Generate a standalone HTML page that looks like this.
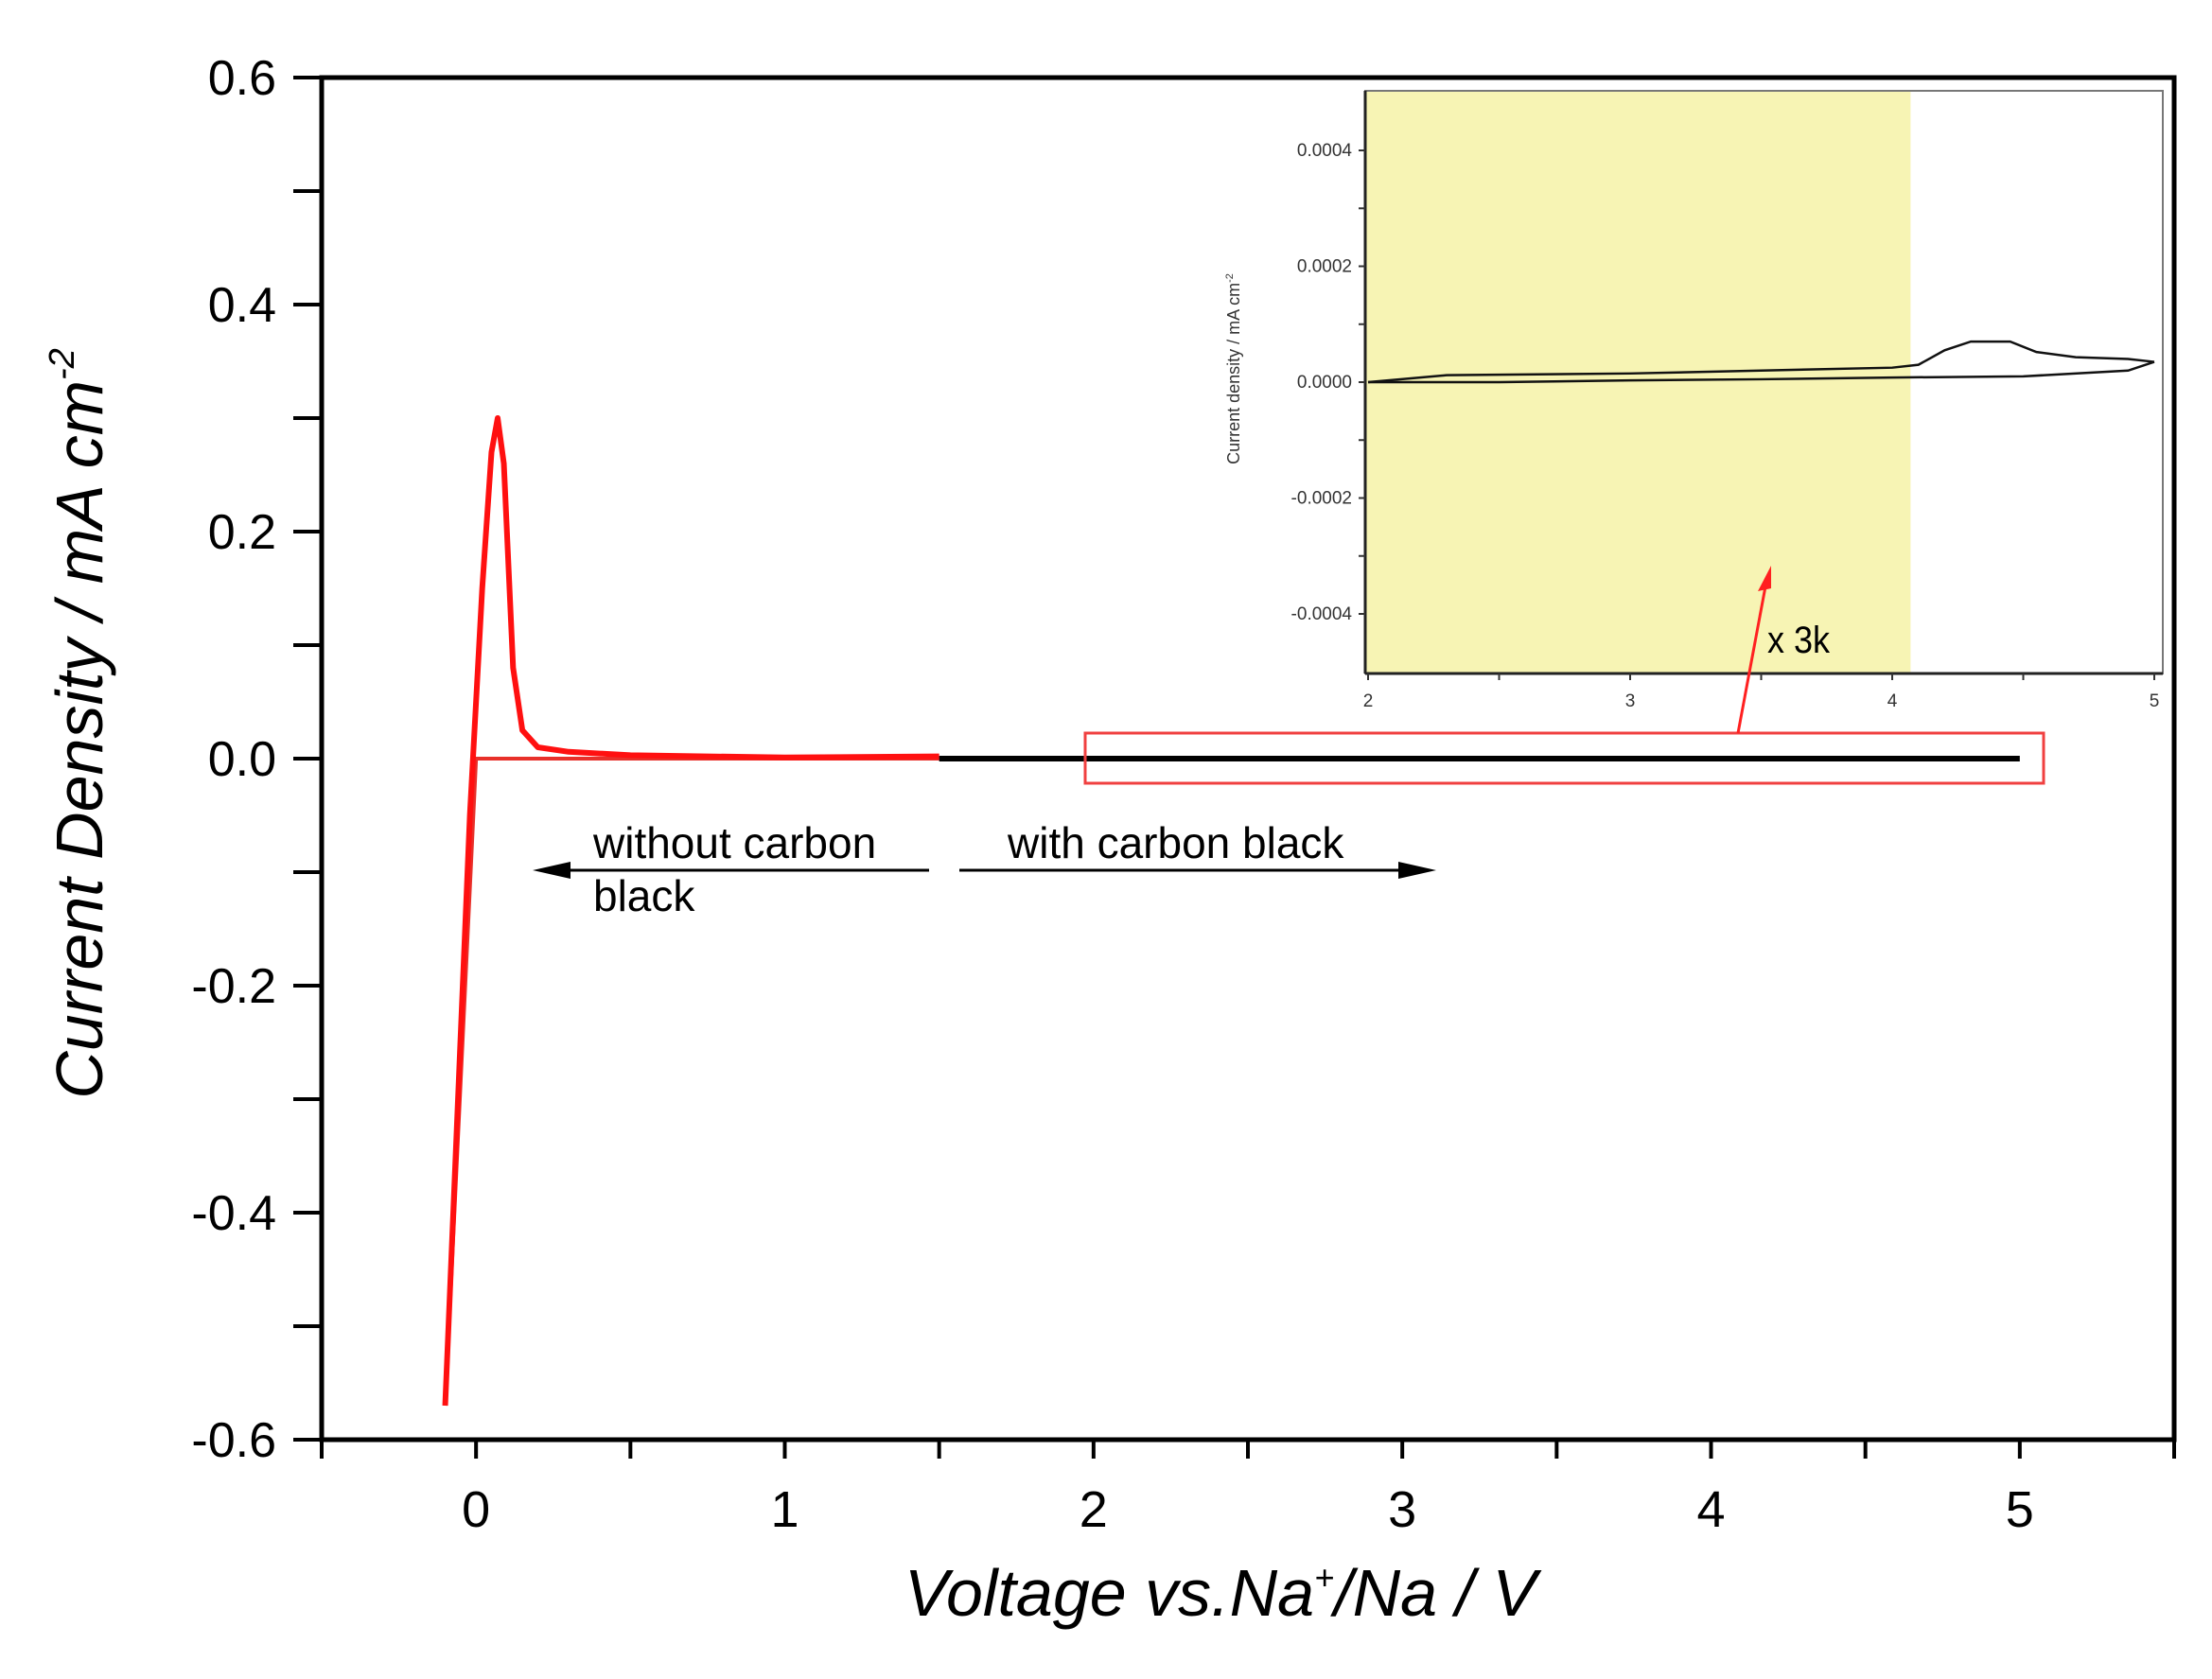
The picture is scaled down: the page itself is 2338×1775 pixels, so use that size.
<!DOCTYPE html>
<html><head><meta charset="utf-8"><style>
html,body{margin:0;padding:0;background:#fff}
svg{display:block}
text{font-family:"Liberation Sans","DejaVu Sans",sans-serif}
</style></head><body>
<svg id="chart" width="2338" height="1775" viewBox="0 0 2338 1775" xmlns="http://www.w3.org/2000/svg">
<g id="main"></g>
<g id="inset"></g>
<g id="overlay"></g>
</svg>
<script>
const xTicks=[0,1,2,3,4,5];
const yTicks=[0.6,0.4,0.2,0.0,-0.2,-0.4,-0.6];
const yTickLabels=["0.6","0.4","0.2","0.0","-0.2","-0.4","-0.6"];
const redCathodicX=[1.5,0.8,0.3,0.1,0.02,0.0,-0.1];
const redCathodicY=[0.0,0.0,0.0,0.0,0.0,0.0,-0.57];
const redAnodicX=[-0.1,-0.02,0.02,0.05,0.07,0.09,0.12,0.15,0.2,0.3,0.5,1.0,1.5];
const redAnodicY=[-0.57,-0.05,0.15,0.27,0.30,0.26,0.08,0.025,0.01,0.006,0.003,0.001,0.002];
const blackX=[1.5,5.0];
const blackY=[0.0,0.0];
const insetXTicks=[2,3,4,5];
const insetYTicks=[0.0004,0.0002,0,-0.0002,-0.0004];
const insetYTickLabels=["0.0004","0.0002","0.0000","-0.0002","-0.0004"];
const insetUpperX=[2.0,2.3,3.0,3.5,4.0,4.1,4.2,4.3,4.45,4.55,4.7,4.9,5.0];
const insetUpperY=[0.0,0.000012,0.000015,0.00002,0.000025,0.00003,0.000055,0.00007,0.00007,0.000052,0.000043,0.00004,0.000035];
const insetLowerX=[2.0,2.5,3.0,3.5,4.0,4.5,4.9,5.0];
const insetLowerY=[0.0,0.0,0.000003,0.000005,0.000008,0.00001,0.00002,0.000035];

const NS="http://www.w3.org/2000/svg";
function mk(parent,tag,attrs,txt){const e=document.createElementNS(NS,tag);for(const k in attrs)e.setAttribute(k,attrs[k]);if(txt!==undefined)e.textContent=txt;parent.appendChild(e);return e;}
const L=340,R=2298,T=82,B=1522;
const sx=v=>L+(v+0.5)/6*(R-L);
const sy=v=>T+(0.6-v)/1.2*(B-T);
const main=document.getElementById('main');

let fr=mk(main,'rect',{x:L,y:T,width:R-L,height:B-T,fill:'none',stroke:'#000','stroke-width':5});


for(let i=0;i<=12;i++){const v=0.6-i*0.1;const y=sy(v);
 let t=mk(main,'line',{x1:L-30,x2:L,y1:y,y2:y,stroke:'#000','stroke-width':4});
 
 }
yTicks.forEach((v,i)=>{let t=mk(main,'text',{x:L-48,y:sy(v)+18,'text-anchor':'end','font-size':52},yTickLabels[i]);
 
 });
for(let i=0;i<=12;i++){const v=-0.5+i*0.5;const x=sx(v);
 let t=mk(main,'line',{x1:x,x2:x,y1:B,y2:B+20,stroke:'#000','stroke-width':4});
 
 }
xTicks.forEach(v=>{let t=mk(main,'text',{x:sx(v),y:1614,'text-anchor':'middle','font-size':54},String(v));
 
 });
let xt=mk(main,'text',{x:1290,y:1708,'text-anchor':'middle','font-size':70,'font-style':'italic'});


xt.innerHTML='Voltage vs.Na<tspan font-size="36" dy="-28">+</tspan><tspan dy="28">/Na / V</tspan>';
let yt=mk(main,'text',{x:0,y:0,'text-anchor':'middle','font-size':70,'font-style':'italic',transform:'translate(108,765) rotate(-90)'});


yt.innerHTML='Current Density / mA cm<tspan font-size="38" dy="-30">-2</tspan>';

function pts(xs,ys,fx,fy){return xs.map((x,i)=>fx(x)+','+fy(ys[i])).join(' ');}
let s1=mk(main,'polyline',{points:pts(redCathodicX,redCathodicY,sx,sy),fill:'none',stroke:'#e8302a','stroke-width':4,'stroke-linejoin':'round'});


let s2=mk(main,'polyline',{points:pts(redAnodicX,redAnodicY,sx,sy),fill:'none',stroke:'#ff1010','stroke-width':6,'stroke-linejoin':'round'});


let s3=mk(main,'polyline',{points:pts(blackX,blackY,sx,sy),fill:'none',stroke:'#000','stroke-width':6});



let zb=mk(main,'rect',{x:1147,y:775,width:1013,height:53,fill:'none',stroke:'#f04040','stroke-width':3});


let a1=mk(main,'line',{x1:982,y1:920,x2:595,y2:920,stroke:'#000','stroke-width':3});


let a1h=mk(main,'polygon',{points:'563,920 603,911 603,929',fill:'#000'});


let a2=mk(main,'line',{x1:1014,y1:920,x2:1490,y2:920,stroke:'#000','stroke-width':3});


let a2h=mk(main,'polygon',{points:'1518,920 1478,911 1478,929',fill:'#000'});


let t1=mk(main,'text',{x:627,y:907,'font-size':46},'without carbon');


let t2=mk(main,'text',{x:627,y:963,'font-size':46},'black');


let t3=mk(main,'text',{x:1065,y:907,'font-size':46},'with carbon black');



const inset=document.getElementById('inset');
const IL=1443,IR=2286,IT=96,IB=712;
const ix=v=>IL+3+(v-2)/3*(2277-IL-3);
const iy=v=>404-(v/0.0004)*245;
let bg=mk(inset,'rect',{x:IL,y:IT,width:ix(4.07)-IL,height:IB-IT,fill:'#f7f4b4'});


let ifr=mk(inset,'rect',{x:IL,y:IT,width:IR-IL,height:IB-IT,fill:'none',stroke:'#777','stroke-width':2});


let il=mk(inset,'line',{x1:IL,x2:IL,y1:IT,y2:IB,stroke:'#222','stroke-width':3});


let ib=mk(inset,'line',{x1:IL,x2:IR,y1:IB,y2:IB,stroke:'#222','stroke-width':3});


for(let i=0;i<9;i++){const v=0.0004-i*0.0001;const y=iy(v);
 let t=mk(inset,'line',{x1:IL-7,x2:IL,y1:y,y2:y,stroke:'#333','stroke-width':2});
 
 }
insetYTicks.forEach((v,i)=>{let t=mk(inset,'text',{x:IL-14,y:iy(v)+6,'text-anchor':'end','font-size':19,fill:'#333'},insetYTickLabels[i]);
 
 });
for(let i=0;i<=6;i++){const v=2+i*0.5;const x=ix(v);
 let t=mk(inset,'line',{x1:x,x2:x,y1:IB,y2:IB+7,stroke:'#333','stroke-width':2});
 
 }
insetXTicks.forEach(v=>{let t=mk(inset,'text',{x:ix(v),y:IB+35,'text-anchor':'middle','font-size':19,fill:'#333'},String(v));
 
 });
let iyt=mk(inset,'text',{x:0,y:0,'text-anchor':'middle','font-size':18,fill:'#333',transform:'translate(1310,390) rotate(-90)'});


iyt.innerHTML='Current density / mA cm<tspan font-size="11" dy="-7">-2</tspan>';
let iu=mk(inset,'polyline',{points:pts(insetUpperX,insetUpperY,ix,iy),fill:'none',stroke:'#111','stroke-width':2.5});


let ilw=mk(inset,'polyline',{points:pts(insetLowerX,insetLowerY,ix,iy),fill:'none',stroke:'#111','stroke-width':2.5});



const ov=document.getElementById('overlay');
let za=mk(ov,'line',{x1:1837,y1:775,x2:1866,y2:620,stroke:'#ff2020','stroke-width':3});


let zh=mk(ov,'polygon',{points:'1872,598 1858,625 1872,622',fill:'#ff2020'});


let x3=mk(ov,'text',{x:1868,y:690,'font-size':40,transform:'translate(1868,0) scale(0.9,1) translate(-1868,0)'},'x 3k');


</script>
</body></html>
